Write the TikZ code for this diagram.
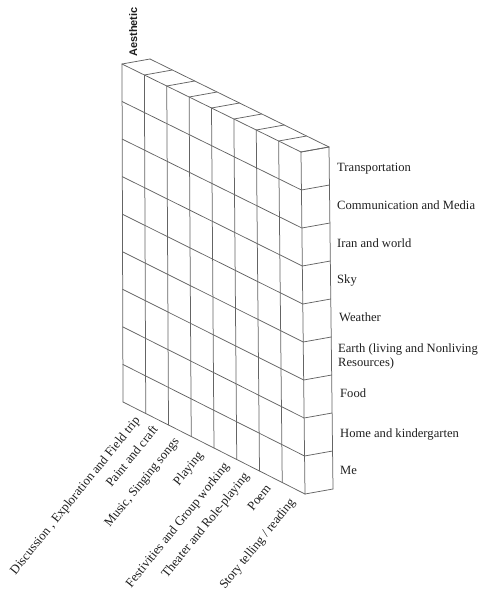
\documentclass[tikz,border=0pt]{standalone}
\usepackage{fontspec}
\setmainfont{Liberation Serif}
\newfontfamily\labelsans{Liberation Sans}
\usetikzlibrary{calc}
\definecolor{gridgray}{RGB}{100,100,100}
\definecolor{inkblack}{RGB}{30,30,30}
\begin{document}
\begin{tikzpicture}[x=1pt,y=-1pt,
  gridline/.style={draw=gridgray,line width=0.75pt,line cap=round},
  rowlabel/.style={anchor=base west,inner sep=0pt,text=inkblack,font=\fontsize{12.6}{14}\selectfont},
  collabel/.style={anchor=base east,inner sep=0pt,rotate=51,text=inkblack,font=\fontsize{12.8}{14}\selectfont},
  toplabel/.style={anchor=base west,inner sep=0pt,rotate=90,text=inkblack,font=\labelsans\bfseries\fontsize{11}{12}\selectfont}]
\useasboundingbox (0,0) rectangle (479,595);
\coordinate (TL) at (122,64);
\coordinate (TR) at (301,152);
\coordinate (BL) at (123,402);
\coordinate (BR) at (305,494);
% front face grid
\foreach \i in {0,...,8} \draw[gridline] ($(TL)!\i/8!(TR)$) -- ($(BL)!\i/8!(BR)$);
\foreach \j in {0,...,9} \draw[gridline] ($(TL)!\j/9!(BL)$) -- ($(TR)!\j/9!(BR)$);
% top faces
\foreach \i in {0,...,8} \draw[gridline] ($(TL)!\i/8!(TR)$) -- ++(28,-5);
\draw[gridline] ($(TL)+(28,-5)$) -- ($(TR)+(28,-5)$);
% right face
\foreach \j in {0,...,9} \draw[gridline] ($(TR)!\j/9!(BR)$) -- ++(28,-5);
\draw[gridline] ($(TR)+(28,-5)$) -- ($(BR)+(28,-5)$);
% top label
\node[toplabel] (aes) at (137,57) {Aesthetic};
% row labels
\node[rowlabel] (r9) at (337,171) {Transportation};
\node[rowlabel] (r8) at (337,209) {Communication and Media};
\node[rowlabel] (r7) at (337,247) {Iran and world};
\node[rowlabel] (r6) at (337,283) {Sky};
\node[rowlabel] (r5) at (339,321) {Weather};
\node[rowlabel,anchor=west,align=left] (r4) at (338,356) {Earth (living and Nonliving\\Resources)};
\node[rowlabel] (r3) at (340,397) {Food};
\node[rowlabel] (r2) at (340,437) {Home and kindergarten};
\node[rowlabel] (r1) at (340,474) {Me};
% column labels
\node[collabel] (c1) at (140.6,420.7) {Discussion , Exploration and Field trip};
\node[collabel] (c2) at (158.6,429.7) {Paint and craft};
\node[collabel] (c3) at (179.6,441.7) {Music, Singing songs};
\node[collabel] (c4) at (203.6,455.7) {Playing};
\node[collabel] (c5) at (229.6,466.7) {Festivities and Group working};
\node[collabel] (c6) at (249.6,476.7) {Theater and Role-playing};
\node[collabel] (c7) at (271.6,488.7) {Poem};
\node[collabel] (c8) at (295.6,502.7) {Story telling / reading};
\end{tikzpicture}
\end{document}
